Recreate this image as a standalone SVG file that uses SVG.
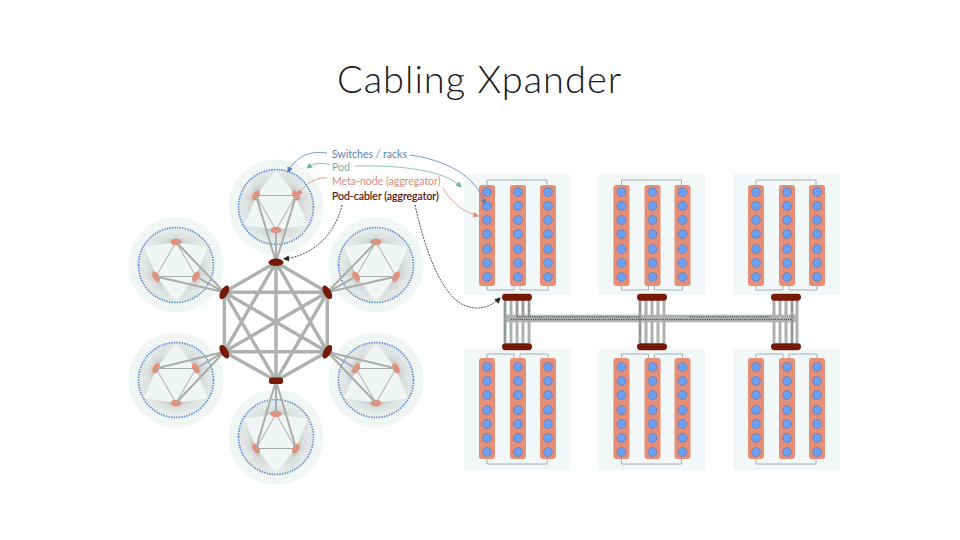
<svg xmlns="http://www.w3.org/2000/svg" width="960" height="540" viewBox="0 0 960 540">
<style>
text{font-family:Lato,"Liberation Sans",sans-serif}
.title{font-size:38px;font-weight:300;fill:#1a1a1a;letter-spacing:1px}
.lab{font-size:10.500px}
.halo{fill:#f0f6f4}
.fan{fill:none;stroke:#b4b8b6;stroke-width:.28}
.thin{fill:none;stroke:#a9adab;stroke-width:1}
.ring{fill:none;stroke:#5d8ad6;stroke-width:1.700;stroke-dasharray:1.400 1.200}
.meta{fill:#e58e78}
.hex{stroke:#adb1af;stroke-width:3.400;fill:none}
.up{stroke:#a9adab;stroke-width:2;fill:none}
.cab{fill:#761a08}
.panel{fill:#f2f7f8}
.col{fill:#e58e78}
.sw{fill:#6ba0f5;stroke:#5d78ad;stroke-width:.7}
.wire{fill:none;stroke:#a6b0b4;stroke-width:1}
.tr{stroke:#adb1af;stroke-width:3;fill:none}
.trunk{stroke:#adb1af;stroke-width:2.500;fill:none}
.dot{stroke:#222;stroke-width:.8;stroke-dasharray:1 1.200;fill:none}
.call{fill:none;stroke-width:.8}
</style>
<defs>
<marker id="aB" markerWidth="7" markerHeight="7" refX="5" refY="3" orient="auto" markerUnits="userSpaceOnUse"><path d="M0 0L6 3L0 6Z" fill="#5b80bd"/></marker>
<marker id="aT" markerWidth="7" markerHeight="7" refX="5" refY="3" orient="auto" markerUnits="userSpaceOnUse"><path d="M0 0L6 3L0 6Z" fill="#6fb3a8"/></marker>
<marker id="aS" markerWidth="7" markerHeight="7" refX="5" refY="3" orient="auto" markerUnits="userSpaceOnUse"><path d="M0 0L6 3L0 6Z" fill="#d98d7c"/></marker>
<marker id="aK" markerWidth="7" markerHeight="7" refX="5" refY="3" orient="auto" markerUnits="userSpaceOnUse"><path d="M0 0L6 3L0 6Z" fill="#222"/></marker>
<g id="fan"><path class="fan" d="M0 23L32.500 18.750M0 23L31.600 20.100M0 23L30.700 21.500M0 23L29.750 22.800M0 23L28.700 24.100M0 23L27.600 25.300M0 23L26.500 26.500M0 23L25.300 27.600M0 23L24.100 28.700M0 23L22.800 29.750M0 23L21.500 30.700M0 23L20.100 31.600M0 23L18.750 32.500M0 23L17.300 33.300M0 23L15.800 34M0 23L14.350 34.650M0 23L12.800 35.200M0 23L11.300 35.800M0 23L9.700 36.200M0 23L8.100 36.600M0 23L6.500 36.900M0 23L4.900 37.200M0 23L3.300 37.400M0 23L1.600 37.500M0 23L0 37.500M0 23L-1.600 37.500M0 23L-3.300 37.400M0 23L-4.900 37.200M0 23L-6.500 36.900M0 23L-8.100 36.600M0 23L-9.700 36.200M0 23L-11.300 35.800M0 23L-12.800 35.200M0 23L-14.350 34.650M0 23L-15.800 34M0 23L-17.300 33.300M0 23L-18.750 32.500M0 23L-20.100 31.600M0 23L-21.500 30.700M0 23L-22.800 29.750M0 23L-24.100 28.700M0 23L-25.300 27.600M0 23L-26.500 26.500M0 23L-27.600 25.300M0 23L-28.700 24.100M0 23L-29.750 22.800M0 23L-30.700 21.500M0 23L-31.600 20.100M0 23L-32.500 18.750"/></g>
<g id="pod">
<circle class="halo" r="47.500"/>
<use href="#fan"/><use href="#fan" transform="rotate(120)"/><use href="#fan" transform="rotate(240)"/>
<path class="thin" d="M0 23L-19.900 -11.500L19.900 -11.500Z"/>
<circle class="ring" r="37.500"/>
<ellipse class="meta" cx="0" cy="23" rx="5.500" ry="3.200"/>
<ellipse class="meta" cx="-19.900" cy="-11.500" rx="5.500" ry="3.200" transform="rotate(120 -19.900 -11.500)"/>
<ellipse class="meta" cx="19.900" cy="-11.500" rx="5.500" ry="3.200" transform="rotate(240 19.900 -11.500)"/>
</g>
<g id="col">
<rect class="col" x="479" y="185" width="16" height="101" rx="3"/>
<circle class="sw" cx="487" cy="192" r="4.400"/><circle class="sw" cx="487" cy="206" r="4.400"/><circle class="sw" cx="487" cy="220" r="4.400"/><circle class="sw" cx="487" cy="234" r="4.400"/><circle class="sw" cx="487" cy="249" r="4.400"/><circle class="sw" cx="487" cy="263" r="4.400"/><circle class="sw" cx="487" cy="277" r="4.400"/>
</g>
<g id="rack">
<rect class="panel" x="464" y="174" width="106.500" height="121"/>
<path class="wire" d="M487 185V180H547V185M487 286V290H514V286M520 286V290H548V286"/>
<use href="#col"/><use href="#col" x="31"/><use href="#col" x="61"/>
</g>
<g id="bar"><rect class="cab" x="502" y="293.700" width="30" height="7" rx="3.400"/></g>
</defs>
<rect width="960" height="540" fill="#fff"/>
<text class="title" x="337" y="93">Cabling Xpander</text>

<g id="pod-top"><use href="#pod" transform="translate(276 207)"/></g>
<g id="pod-upper-left"><use href="#pod" transform="translate(176 265) rotate(180)"/></g>
<g id="pod-upper-right"><use href="#pod" transform="translate(376 265) rotate(180)"/></g>
<g id="pod-lower-left"><use href="#pod" transform="translate(176 380)"/></g>
<g id="pod-lower-right"><use href="#pod" transform="translate(376 380)"/></g>
<g id="pod-bottom"><use href="#pod" transform="translate(276 437) rotate(180)"/></g>

<g id="rack-1"><use href="#rack"/></g>
<g id="rack-2"><use href="#rack" x="134.500"/></g>
<g id="rack-3"><use href="#rack" x="269"/></g>
<g id="rack-4"><use href="#rack" transform="translate(0 644) scale(1 -1)"/></g>
<g id="rack-5"><use href="#rack" transform="translate(134.500 644) scale(1 -1)"/></g>
<g id="rack-6"><use href="#rack" transform="translate(269 644) scale(1 -1)"/></g>

<g id="connectors">
<path class="up" d="M256 195.500L276 262M296 195.500L276 262M276 230L276 262"/>
<path class="up" d="M176 242L224.300 292.300M156 276.500L224.300 292.300M196 276.500L224.300 292.300"/>
<path class="up" d="M376 242L327.300 292.300M356 276.500L327.300 292.300M396 276.500L327.300 292.300"/>
<path class="up" d="M176 403L224.300 351.700M156 368.500L224.300 351.700M196 368.500L224.300 351.700"/>
<path class="up" d="M376 403L327.300 351.700M356 368.500L327.300 351.700M396 368.500L327.300 351.700"/>
<path class="up" d="M276 414L276 380.700M256 448.500L276 380.700M296 448.500L276 380.700"/>
<path class="hex" d="M276 262.300L224.300 292.300L224.300 351.700L276 380.700L327.300 351.700L327.300 292.300ZM276 262.300L224.300 351.700M276 262.300L276 380.700M276 262.300L327.300 351.700M224.300 292.300L327.300 292.300M224.300 292.300L276 380.700M224.300 292.300L327.300 351.700M224.300 351.700L327.300 351.700M224.300 351.700L327.300 292.300M276 380.700L327.300 292.300"/>

<path class="tr" d="M505 300V343M511 300V343M517 300V343M523 300V343M529 300V343M640 300V343M646 300V343M652 300V343M658 300V343M664 300V343M774 300V343M780 300V343M786 300V343M792 300V343M797 300V343"/>
<path class="trunk" d="M505 316H797M505 318.500H797M505 321H797"/>
<path class="dot" d="M505 300V343M517 300V317M523 300V316M529 300V316M640 300V343M792 300V343"/>
<path class="dot" d="M517 317H640M511 319.500H792M690 317H770"/>

<path class="call" stroke="#5b80bd" d="M327 153C308 150 295 158 288 172" marker-end="url(#aB)"/>
<path class="call" stroke="#5b80bd" d="M410 155C445 160 476 175 485 204" marker-end="url(#aB)"/>
<path class="call" stroke="#6fb3a8" d="M330 165C322 162 314 163 307 168" marker-end="url(#aT)"/>
<path class="call" stroke="#6fb3a8" d="M355 166C400 165 445 170 461 187" marker-end="url(#aT)"/>
<path class="call" stroke="#d98d7c" d="M327 178C315 177 305 184 298 195" marker-end="url(#aS)"/>
<path class="call" stroke="#d98d7c" d="M443 188C450 200 460 211 478 216" marker-end="url(#aS)"/>
<path class="call" stroke="#222" stroke-dasharray="2 1" d="M342 205C335 235 312 256 284 259" marker-end="url(#aK)"/>
<path class="call" stroke="#222" stroke-dasharray="2 1" d="M415 205C425 250 440 290 460 303C475 312 490 308 500 298" marker-end="url(#aK)"/>
</g>

<g id="cabler-top"><ellipse class="cab" cx="276" cy="262.300" rx="7.500" ry="3.700"/></g>
<g id="cabler-upper-left"><ellipse class="cab" cx="224.300" cy="292.300" rx="7.500" ry="3.700" transform="rotate(-60 224.300 292.300)"/></g>
<g id="cabler-upper-right"><ellipse class="cab" cx="327.300" cy="292.300" rx="7.500" ry="3.700" transform="rotate(60 327.300 292.300)"/></g>
<g id="cabler-lower-left"><ellipse class="cab" cx="224.300" cy="351.700" rx="7.500" ry="3.700" transform="rotate(60 224.300 351.700)"/></g>
<g id="cabler-lower-right"><ellipse class="cab" cx="327.300" cy="351.700" rx="7.500" ry="3.700" transform="rotate(-60 327.300 351.700)"/></g>
<g id="cabler-bottom"><rect class="cab" x="269" y="377.500" width="14" height="6.500" rx="2.500"/></g>

<g id="bar-1"><use href="#bar"/></g>
<g id="bar-2"><use href="#bar" x="135"/></g>
<g id="bar-3"><use href="#bar" x="269"/></g>
<g id="bar-4"><use href="#bar" y="49.500"/></g>
<g id="bar-5"><use href="#bar" x="135" y="49.500"/></g>
<g id="bar-6"><use href="#bar" x="269" y="49.500"/></g>

<g id="legend">
<text class="lab" x="332" y="157.500" fill="#5b80bd">Switches / racks</text>
<text class="lab" x="332" y="170.500" fill="#6fb3a8">Pod</text>
<text class="lab" x="332" y="185" fill="#d98d7c">Meta-node (aggregator)</text>
<text class="lab" x="332" y="200" fill="#5a1408" stroke="#5a1408" stroke-width=".2">Pod-cabler (aggregator)</text>
</g>
</svg>
